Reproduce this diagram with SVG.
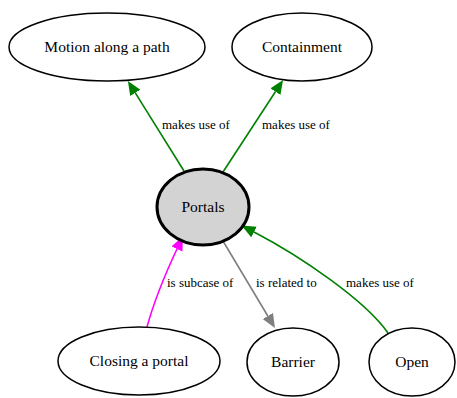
<svg xmlns="http://www.w3.org/2000/svg" width="457" height="398" viewBox="0 0 457 398">
<style>
text{font-family:'Liberation Serif','DejaVu Serif','Times New Roman',serif}
.node ellipse{fill:#fff;stroke:#000;stroke-width:1.5}
.node text{font-size:15.5px;text-anchor:middle;fill:#000}
.edge path{fill:none;stroke-width:1.6}
.lbl{font-size:13px;fill:#000}
</style>
<defs>
<marker id="ag" markerUnits="userSpaceOnUse" markerWidth="15" markerHeight="13" refX="0" refY="6" orient="auto"><path d="M0,0L14,6L0,12z" fill="#008000"/></marker>
<marker id="am" markerUnits="userSpaceOnUse" markerWidth="15" markerHeight="13" refX="0" refY="6" orient="auto"><path d="M0,0L14,6L0,12z" fill="#ff00ff"/></marker>
<marker id="ay" markerUnits="userSpaceOnUse" markerWidth="15" markerHeight="13" refX="0" refY="6" orient="auto"><path d="M0,0L14,6L0,12z" fill="#7f7f7f"/></marker>
</defs>
<g id="edges">
<g class="edge"><path d="M184,171L135.3,92.8" stroke="#008000" marker-end="url(#ag)"/><text class="lbl" x="162" y="129">makes use of</text></g>
<g class="edge"><path d="M223,172L275.4,91.7" stroke="#008000" marker-end="url(#ag)"/><text class="lbl" x="262" y="129">makes use of</text></g>
<g class="edge"><path d="M147,327C153,305 161,283 177,249" stroke="#ff00ff" marker-end="url(#am)"/><text class="lbl" x="167" y="287">is subcase of</text></g>
<g class="edge"><path d="M223,241L267.8,316" stroke="#7f7f7f" marker-end="url(#ay)"/><text class="lbl" x="256" y="287">is related to</text></g>
<g class="edge"><path d="M388,333C365,300 300,256 254,232" stroke="#008000" marker-end="url(#ag)"/><text class="lbl" x="346" y="287">makes use of</text></g>
</g>
<g id="motion" class="node"><ellipse cx="107" cy="47" rx="98" ry="34"/><text x="107" y="52">Motion along a path</text></g>
<g id="containment" class="node"><ellipse cx="302" cy="47" rx="70" ry="34"/><text x="302" y="52">Containment</text></g>
<g id="portals" class="node"><ellipse cx="203" cy="207" rx="46" ry="38" style="fill:#d3d3d3;stroke-width:3"/><text x="203" y="212">Portals</text></g>
<g id="closing" class="node"><ellipse cx="139" cy="361" rx="81" ry="34"/><text x="139" y="366">Closing a portal</text></g>
<g id="barrier" class="node"><ellipse cx="293" cy="362" rx="46" ry="34"/><text x="293" y="367">Barrier</text></g>
<g id="open" class="node"><ellipse cx="412" cy="362" rx="43" ry="34"/><text x="412" y="367">Open</text></g>
</svg>
